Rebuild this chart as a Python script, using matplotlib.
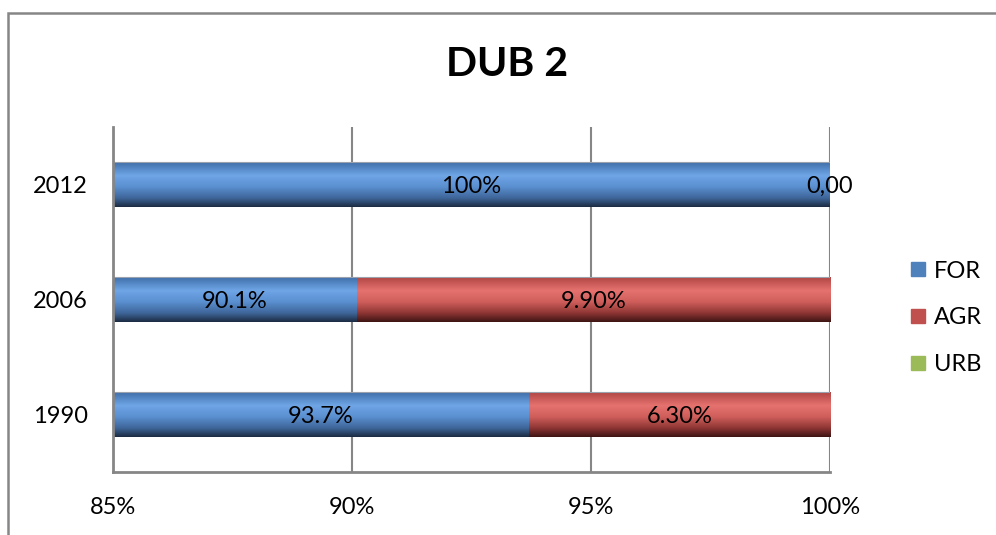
import numpy as np
import matplotlib
matplotlib.use("Agg")
import matplotlib.pyplot as plt
from matplotlib.colors import LinearSegmentedColormap
from matplotlib.patches import Rectangle
from matplotlib.lines import Line2D

plt.rcParams['font.family'] = ['Lato', 'DejaVu Sans']

# Data
years = ["1990", "2006", "2012"]
series_names = ["FOR", "AGR", "URB"]
for_vals = [93.7, 90.1, 100.0]
agr_vals = [6.3, 9.9, 0.0]
urb_vals = [0.0, 0.0, 0.0]
for_labels = ["93.7%", "90.1%", "100%"]
agr_labels = ["6.30%", "9.90%", "0,00"]
x_ticks = [85, 90, 95, 100]
title = "DUB 2"

colors = {"FOR": "#4f81bd", "AGR": "#c0504d", "URB": "#9bbb59"}
gradients = {
    "FOR": ["#3f6ea9", "#6fa6e6", "#5a8fd0", "#3e6699", "#1c2b42"],
    "AGR": ["#b04644", "#e6726f", "#cf5e5b", "#8e3634", "#3d1413"],
    "URB": ["#86a64a", "#b8d97a", "#9bbb59", "#6d8a3a", "#2f3d18"],
}
grad_pos = [0.0, 0.3, 0.55, 0.8, 1.0]

XMIN, XMAX = 85, 100
BAR_H = 0.39
FS = 17

fig = plt.figure(figsize=(9.96, 5.35), dpi=100)
ax = fig.add_axes([113 / 996, 1 - 472 / 535, (830 - 113) / 996, (472 - 127) / 535])

y = np.arange(len(years))
series = {"FOR": for_vals, "AGR": agr_vals, "URB": urb_vals}
labels = {"FOR": for_labels, "AGR": agr_labels}

left = np.zeros(len(years))
for name in series_names:
    vals = np.array(series[name])
    bars = ax.barh(y, vals, left=left, height=BAR_H, color="none",
                   edgecolor="none", zorder=3)
    cmap = LinearSegmentedColormap.from_list(name, list(zip(grad_pos, gradients[name])))
    grad = np.linspace(0, 1, 256).reshape(-1, 1)
    for i, b in enumerate(bars):
        x0 = max(b.get_x(), XMIN)
        x1 = min(b.get_x() + b.get_width(), XMAX)
        y0 = b.get_y()
        y1 = y0 + b.get_height()
        if x1 > x0:
            ax.imshow(grad, cmap=cmap, aspect="auto", origin="upper",
                      extent=(x0, x1, y0, y1), zorder=3, interpolation="bilinear")
            ax.plot([x0, x1], [y1, y1], color="#9aa3ad", lw=0.8, zorder=4)
        if name in labels:
            ax.text((x0 + x1) / 2, y0 + BAR_H / 2, labels[name][i], ha="center",
                    va="center_baseline", fontsize=FS, color="black", zorder=5)
    left = left + vals

ax.set_xlim(XMIN, XMAX)
ax.set_ylim(-0.5, 2.5)
ax.set_xticks(x_ticks)
ax.set_xticklabels([f"{t}%" for t in x_ticks], fontsize=FS)
ax.set_yticks(y)
ax.set_yticklabels(years, fontsize=FS)
ax.tick_params(axis="both", length=0)
ax.tick_params(axis="x", pad=18)
ax.tick_params(axis="y", pad=18)
ax.grid(axis="x", color="#868686", lw=1.5, zorder=1)
for s in ["top", "right"]:
    ax.spines[s].set_visible(False)
for s in ["left", "bottom"]:
    ax.spines[s].set_color("#868686")
    ax.spines[s].set_linewidth(2)
    ax.spines[s].set_zorder(6)

fig.text(507 / 996, 1 - 64 / 535, title, ha="center", va="center",
         fontsize=29.5, fontweight="bold")

handles = [Line2D([], [], marker="s", linestyle="none", markersize=9.5,
                  markerfacecolor=colors[n], markeredgecolor=colors[n]) for n in series_names]
fig.legend(handles, series_names, loc="center left",
           bbox_to_anchor=(888 / 996, 1 - 318 / 535), frameon=False,
           fontsize=FS, labelspacing=1.1, handlelength=0.7, handletextpad=0.35)

# outer chart frame
fig.add_artist(Rectangle((7.5 / 996, -0.1), 1.2, 1 - 12.5 / 535 + 0.1,
                         transform=fig.transFigure, fill=False,
                         edgecolor="#868686", lw=1.8))

fig.savefig("out.png", dpi=100)
